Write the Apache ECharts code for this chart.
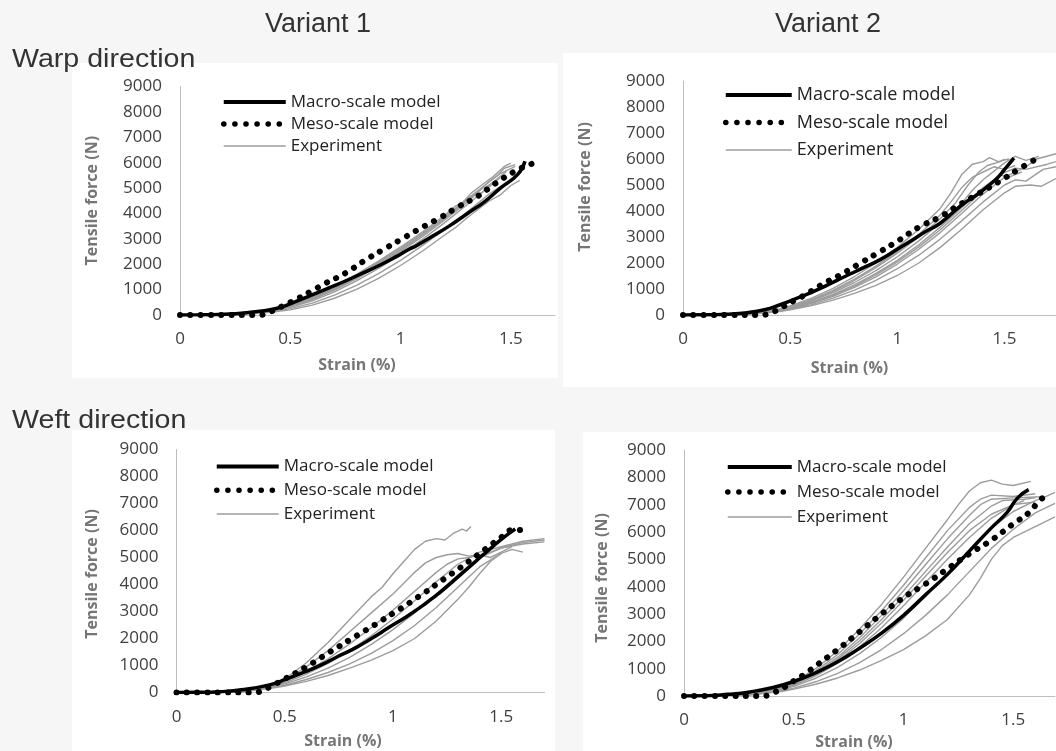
<!DOCTYPE html>
<html>
<head>
<meta charset="utf-8">
<script src="https://cdn.jsdelivr.net/npm/echarts@6/dist/echarts.min.js"></script>
<style>
html,body{margin:0;padding:0;background:#f6f6f6;}
#chart{width:1056px;height:751px;}
</style>
</head>
<body>
<div id="chart"></div>
<script>
// ---------- Data (strain %, tensile force N) ----------
const yTickLabels = ['0','1000','2000','3000','4000','5000','6000','7000','8000','9000'];
const xTickLabels = ['0','0.5','1','1.5'];
const seriesNames = ['Macro-scale model','Meso-scale model','Experiment'];
const columnTitles = ['Variant 1','Variant 2'];
const rowTitles = ['Warp direction','Weft direction'];

// Warp direction, Variant 1
const warpV1Macro = [[0,0],[0.1,5],[0.2,30],[0.28,66],[0.36,150],[0.44,264],[0.51,480],[0.59,760],[0.67,1050],[0.75,1340],[0.83,1660],[0.91,1980],[0.98,2300],[1.04,2600],[1.07,2720],[1.14,3080],[1.22,3500],[1.3,3980],[1.38,4460],[1.45,4980],[1.53,5530],[1.564,6060]];
const warpV1Meso = [[0,0],[0.1,0],[0.2,0],[0.3,0],[0.36,0],[0.41,130],[0.46,330],[0.5,500],[0.53,633],[0.6,960],[0.66,1250],[0.75,1650],[0.835,2135],[0.92,2570],[1.0,2966],[1.09,3414],[1.18,3835],[1.26,4257],[1.35,4680],[1.43,5180],[1.52,5670],[1.6,5970]];
const warpV1Experiment = [
  [[0,0],[0.2,40],[0.4,200],[0.5,400],[0.6,720],[0.7,1120],[0.8,1600],[0.9,2120],[1.0,2680],[1.1,3280],[1.2,3930],[1.25,4300],[1.28,4420],[1.32,4800],[1.38,5200],[1.42,5450],[1.47,5850],[1.5,5980]],
  [[0,0],[0.2,30],[0.4,170],[0.5,360],[0.6,660],[0.7,1040],[0.8,1500],[0.9,2020],[1.0,2580],[1.1,3180],[1.2,3820],[1.26,4250],[1.3,4520],[1.35,4850],[1.4,5250],[1.44,5500],[1.47,5780],[1.52,5920]],
  [[0,0],[0.2,30],[0.4,160],[0.5,330],[0.6,610],[0.7,980],[0.8,1420],[0.9,1930],[1.0,2490],[1.1,3090],[1.2,3740],[1.3,4420],[1.34,4750],[1.37,4830],[1.4,5100],[1.48,5650]],
  [[0,0],[0.2,25],[0.4,150],[0.5,300],[0.6,560],[0.7,910],[0.8,1340],[0.9,1840],[1.0,2390],[1.1,2990],[1.2,3640],[1.3,4330],[1.38,4900],[1.45,5400]],
  [[0,0],[0.2,20],[0.4,120],[0.5,250],[0.6,470],[0.7,780],[0.8,1170],[0.9,1630],[1.0,2150],[1.1,2740],[1.2,3370],[1.27,3800],[1.3,4050],[1.4,4750],[1.5,5350],[1.55,5650]],
  [[0,0],[0.2,15],[0.4,100],[0.5,200],[0.6,390],[0.7,660],[0.8,1010],[0.9,1440],[1.0,1950],[1.1,2520],[1.2,3150],[1.25,3450],[1.3,3820],[1.4,4480],[1.45,4720],[1.5,5100],[1.54,5300]],
  [[0,0],[0.2,35],[0.4,190],[0.5,380],[0.6,690],[0.7,1080],[0.8,1550],[0.9,2070],[1.0,2630],[1.1,3230],[1.2,3870],[1.3,4560],[1.4,5230],[1.45,5560],[1.52,5850]],
  [[0,0],[0.2,30],[0.4,165],[0.5,345],[0.6,640],[0.7,1010],[0.8,1460],[0.9,1980],[1.0,2540],[1.1,3150],[1.2,3800],[1.3,4500],[1.37,4980],[1.42,5200]]
];

// Warp direction, Variant 2
const warpV2Macro = [[0,0],[0.1,5],[0.2,30],[0.3,90],[0.38,200],[0.45,385],[0.53,640],[0.61,910],[0.68,1180],[0.76,1500],[0.84,1810],[0.92,2130],[1.0,2530],[1.07,2885],[1.13,3200],[1.2,3530],[1.3,4230],[1.38,4680],[1.46,5220],[1.5,5600],[1.544,6030]];
const warpV2Meso = [[0,0],[0.1,0],[0.2,0],[0.3,0],[0.36,0],[0.42,120],[0.47,330],[0.52,560],[0.56,731],[0.653,1192],[0.746,1602],[0.836,2038],[0.924,2461],[1.009,2884],[1.099,3372],[1.195,3756],[1.288,4231],[1.381,4680],[1.474,5128],[1.56,5577],[1.653,6026]];
const warpV2Experiment = [
  [[0,0],[0.3,40],[0.45,230],[0.5,350],[0.6,650],[0.7,1020],[0.8,1480],[0.9,2000],[1.0,2600],[1.1,3300],[1.2,4100],[1.25,4700],[1.3,5400],[1.35,5800],[1.4,5900],[1.43,6050],[1.47,5900],[1.52,6000]],
  [[0,0],[0.3,35],[0.45,210],[0.5,320],[0.6,600],[0.7,950],[0.8,1380],[0.9,1880],[1.0,2450],[1.1,3100],[1.2,3850],[1.25,4350],[1.3,4900],[1.35,5300],[1.4,5500],[1.45,5700],[1.5,5600],[1.55,5750]],
  [[0,0],[0.3,30],[0.45,190],[0.5,290],[0.6,540],[0.7,860],[0.8,1250],[0.9,1710],[1.0,2240],[1.1,2850],[1.2,3550],[1.3,4300],[1.35,4800],[1.4,5200],[1.5,5850],[1.55,6100],[1.6,5950],[1.66,6100]],
  [[0,0],[0.3,30],[0.45,180],[0.5,265],[0.6,490],[0.7,790],[0.8,1160],[0.9,1600],[1.0,2100],[1.1,2700],[1.2,3380],[1.3,4130],[1.4,4900],[1.5,5480],[1.55,5650],[1.6,5600],[1.7,5800],[1.74,5900]],
  [[0,0],[0.3,25],[0.45,160],[0.5,240],[0.6,450],[0.7,720],[0.8,1060],[0.9,1470],[1.0,1960],[1.1,2530],[1.2,3170],[1.3,3900],[1.4,4650],[1.5,5300],[1.6,5700],[1.65,6000],[1.74,6200]],
  [[0,0],[0.3,25],[0.45,150],[0.5,220],[0.6,400],[0.7,650],[0.8,960],[0.9,1330],[1.0,1780],[1.1,2300],[1.2,2920],[1.3,3620],[1.4,4350],[1.5,5000],[1.55,5200],[1.6,5150],[1.68,5600],[1.74,5700]],
  [[0,0],[0.3,20],[0.45,135],[0.5,200],[0.6,360],[0.7,570],[0.8,830],[0.9,1140],[1.0,1520],[1.1,2000],[1.2,2600],[1.3,3300],[1.4,4050],[1.5,4700],[1.55,4950],[1.62,5000],[1.67,4950],[1.74,5250]],
  [[0,0],[0.3,35],[0.45,200],[0.5,300],[0.6,570],[0.7,910],[0.8,1330],[0.9,1820],[1.0,2380],[1.1,3000],[1.2,3700],[1.27,4300],[1.33,5000],[1.38,5500],[1.42,5750],[1.48,5900],[1.5,6000]],
  [[0,0],[0.3,28],[0.45,170],[0.5,250],[0.6,470],[0.7,760],[0.8,1110],[0.9,1540],[1.0,2040],[1.1,2620],[1.2,3280],[1.3,4020],[1.4,4780],[1.48,5380],[1.52,5300],[1.58,5500]]
];

// Weft direction, Variant 1
const weftV1Macro = [[0,0],[0.1,5],[0.2,30],[0.3,99],[0.43,284],[0.506,494],[0.586,742],[0.666,1013],[0.745,1335],[0.825,1644],[0.904,2015],[0.984,2423],[1.064,2818],[1.143,3251],[1.2,3600],[1.223,3745],[1.303,4301],[1.382,4857],[1.462,5414],[1.518,5785],[1.565,6056]];
const weftV1Meso = [[0,0],[0.1,0],[0.2,0],[0.3,0],[0.36,0],[0.41,130],[0.46,330],[0.5,500],[0.55,720],[0.6,950],[0.65,1200],[0.7,1460],[0.75,1700],[0.8,1950],[0.85,2190],[0.9,2430],[0.95,2680],[1.0,2930],[1.05,3180],[1.1,3450],[1.15,3720],[1.2,4000],[1.25,4280],[1.3,4560],[1.35,4850],[1.4,5150],[1.45,5450],[1.5,5750],[1.56,6030],[1.61,6000]];
const weftV1Experiment = [
  [[0,0],[0.3,60],[0.45,320],[0.5,500],[0.6,1100],[0.7,1850],[0.8,2700],[0.9,3550],[0.95,3900],[1.0,4400],[1.05,4850],[1.1,5300],[1.15,5600],[1.2,5700],[1.24,5650],[1.28,5900],[1.32,6050],[1.34,5980],[1.36,6150]],
  [[0,0],[0.3,55],[0.45,300],[0.5,460],[0.6,950],[0.7,1550],[0.8,2250],[0.9,2950],[1.0,3650],[1.05,4050],[1.1,4450],[1.15,4800],[1.2,5000],[1.25,5100],[1.3,5150],[1.35,5050],[1.4,5100],[1.45,5000],[1.5,5200],[1.55,5400]],
  [[0,0],[0.3,50],[0.45,270],[0.5,400],[0.6,780],[0.7,1250],[0.8,1800],[0.9,2400],[1.0,3050],[1.1,3750],[1.2,4450],[1.25,4750],[1.3,4950],[1.35,5000],[1.45,5200],[1.5,5350],[1.6,5550],[1.7,5650]],
  [[0,0],[0.3,45],[0.45,250],[0.5,360],[0.6,680],[0.7,1080],[0.8,1560],[0.9,2100],[1.0,2720],[1.1,3400],[1.2,4100],[1.3,4750],[1.4,5200],[1.5,5400],[1.6,5600],[1.7,5700]],
  [[0,0],[0.3,35],[0.45,220],[0.5,320],[0.6,580],[0.7,900],[0.8,1300],[0.9,1780],[1.0,2330],[1.1,2950],[1.2,3650],[1.3,4350],[1.4,5000],[1.5,5350],[1.6,5500],[1.7,5580]],
  [[0,0],[0.3,30],[0.45,190],[0.5,270],[0.6,480],[0.7,740],[0.8,1060],[0.9,1450],[1.0,1920],[1.1,2480],[1.2,3150],[1.3,3900],[1.4,4650],[1.5,5150],[1.55,5300],[1.6,5200]],
  [[0,0],[0.3,25],[0.45,170],[0.5,240],[0.6,410],[0.7,630],[0.8,900],[0.9,1200],[1.0,1550],[1.1,2000],[1.2,2650],[1.3,3450],[1.35,3900],[1.4,4400],[1.45,4850],[1.5,5150]]
];

// Weft direction, Variant 2
const weftV2Macro = [[0,0],[0.1,5],[0.2,60],[0.3,150],[0.4,300],[0.5,530],[0.6,850],[0.7,1250],[0.8,1750],[0.9,2300],[1.0,2950],[1.1,3700],[1.2,4450],[1.3,5300],[1.4,6150],[1.47,6700],[1.52,7250],[1.57,7550]];
const weftV2Meso = [[0,0],[0.1,0],[0.2,0],[0.3,0],[0.36,0],[0.41,130],[0.46,330],[0.5,550],[0.55,800],[0.6,1100],[0.7,1700],[0.8,2350],[0.9,3000],[1.0,3600],[1.1,4100],[1.2,4650],[1.3,5200],[1.4,5700],[1.5,6300],[1.57,6700],[1.62,7150],[1.66,7400]];
const weftV2Experiment = [
  [[0,0],[0.3,80],[0.45,350],[0.5,520],[0.6,1000],[0.7,1650],[0.8,2450],[0.9,3350],[1.0,4350],[1.1,5400],[1.2,6450],[1.25,7000],[1.3,7500],[1.35,7800],[1.4,7900],[1.45,7750],[1.5,7700],[1.58,7850]],
  [[0,0],[0.3,70],[0.45,320],[0.5,480],[0.6,920],[0.7,1520],[0.8,2270],[0.9,3120],[1.0,4050],[1.1,5050],[1.2,6050],[1.3,6900],[1.35,7200],[1.4,7350],[1.5,7300],[1.6,7400]],
  [[0,0],[0.3,65],[0.45,300],[0.5,450],[0.6,860],[0.7,1420],[0.8,2130],[0.9,2950],[1.0,3850],[1.1,4800],[1.2,5750],[1.3,6600],[1.35,7000],[1.4,7200],[1.5,7250],[1.65,7300],[1.69,7450]],
  [[0,0],[0.3,60],[0.45,290],[0.5,430],[0.6,820],[0.7,1350],[0.8,2020],[0.9,2800],[1.0,3650],[1.1,4550],[1.2,5450],[1.3,6300],[1.4,6950],[1.45,7150],[1.55,7200],[1.6,7250]],
  [[0,0],[0.3,60],[0.45,280],[0.5,410],[0.6,780],[0.7,1280],[0.8,1920],[0.9,2670],[1.0,3500],[1.1,4380],[1.2,5250],[1.3,6050],[1.4,6650],[1.5,7000],[1.6,7100]],
  [[0,0],[0.3,55],[0.45,270],[0.5,390],[0.6,740],[0.7,1200],[0.8,1800],[0.9,2500],[1.0,3300],[1.1,4150],[1.2,5000],[1.3,5800],[1.4,6500],[1.5,7000],[1.55,7150]],
  [[0,0],[0.3,50],[0.45,240],[0.5,350],[0.6,650],[0.7,1050],[0.8,1550],[0.9,2150],[1.0,2850],[1.1,3650],[1.2,4500],[1.3,5350],[1.4,6150],[1.5,6750],[1.6,7150],[1.65,7300]],
  [[0,0],[0.3,40],[0.45,200],[0.5,290],[0.6,520],[0.7,830],[0.8,1220],[0.9,1700],[1.0,2280],[1.1,2950],[1.2,3700],[1.3,4550],[1.4,5400],[1.5,6100],[1.6,6700],[1.69,7050]],
  [[0,0],[0.3,35],[0.45,170],[0.5,250],[0.6,430],[0.7,660],[0.8,950],[0.9,1300],[1.0,1700],[1.1,2200],[1.2,2800],[1.3,3700],[1.35,4300],[1.4,5000],[1.45,5500],[1.5,5800],[1.6,6200],[1.69,6550]]
];

// ---------- Styles & layout ----------
const uiFont = "'Open Sans', 'Noto Sans', sans-serif";
const macroLine = {color: '#000', width: 3.5};
const mesoLine = {color: '#000', width: 6, type: [0.1, 10.2], cap: 'round'};
const expLine = {color: '#9c9c9c', width: 1.4};

const panels = [
  {macro: warpV1Macro, meso: warpV1Meso, exp: warpV1Experiment, xMax: 1.7,
   grid: {left: 180, top: 86.5, width: 375, height: 228.5},
   legend: {left: 221, top: 93.5, gap: 5, size: 17, w: 62},
   yNameGap: 80, yNameShift: 0, xNameGap: 42, xNameShift: 21,
   bg: [72, 63, 486, 315]},
  {macro: warpV2Macro, meso: warpV2Meso, exp: warpV2Experiment, xMax: 1.74,
   grid: {left: 683, top: 81, width: 374, height: 234},
   legend: {left: 723, top: 86, gap: 9.5, size: 18, w: 66},
   yNameGap: 90, yNameShift: 22, xNameGap: 45, xNameShift: 40,
   bg: [563, 53, 493, 334]},
  {macro: weftV1Macro, meso: weftV1Meso, exp: weftV1Experiment, xMax: 1.7,
   grid: {left: 176.5, top: 449.5, width: 368, height: 243},
   legend: {left: 214, top: 458, gap: 6.75, size: 17, w: 62},
   yNameGap: 76, yNameShift: -6, xNameGap: 41, xNameShift: 35,
   bg: [72, 430, 483, 321]},
  {macro: weftV2Macro, meso: weftV2Meso, exp: weftV2Experiment, xMax: 1.69,
   grid: {left: 684, top: 450, width: 371, height: 246.7},
   legend: {left: 725, top: 458.5, gap: 8, size: 17, w: 64},
   yNameGap: 74, yNameShift: -10, xNameGap: 38, xNameShift: 31,
   bg: [583, 432, 473, 319]}
];

const grids = [], xAxes = [], yAxes = [], series = [], legends = [], graphics = [];

panels.forEach((p, i) => {
  grids.push(Object.assign({containLabel: false}, p.grid));
  xAxes.push({
    type: 'value', gridIndex: i, min: 0, max: p.xMax, interval: 0.5,
    name: 'Strain (%)', nameLocation: 'middle', nameGap: p.xNameGap,
    nameTextStyle: {fontFamily: uiFont, fontSize: 16, fontWeight: 'bold', color: '#767676',
                    padding: [0, p.xNameShift, 0, 0]},
    axisLine: {show: true, onZero: false, lineStyle: {color: '#bdbdbd', width: 1}},
    axisTick: {show: false}, splitLine: {show: false},
    axisLabel: {fontFamily: uiFont, fontSize: 17, color: '#404040', margin: 16,
      showMaxLabel: false,
      formatter: v => { const s = String(Math.round(v * 10) / 10); return xTickLabels.includes(s) ? s : ''; }}
  });
  yAxes.push({
    type: 'value', gridIndex: i, min: 0, max: 9000, interval: 1000,
    name: 'Tensile force (N)', nameLocation: 'middle', nameGap: p.yNameGap,
    nameTextStyle: {fontFamily: uiFont, fontSize: 16, fontWeight: 'bold', color: '#767676',
                    padding: p.yNameShift >= 0 ? [0, 0, 0, p.yNameShift] : [0, -p.yNameShift, 0, 0]},
    axisLine: {show: true, lineStyle: {color: '#bdbdbd', width: 1}},
    axisTick: {show: false}, splitLine: {show: false},
    axisLabel: {fontFamily: uiFont, fontSize: 17, color: '#404040', margin: 18,
      formatter: v => yTickLabels.includes(String(v)) ? String(v) : ''}
  });
  p.exp.forEach((curve) => {
    series.push({
      name: seriesNames[2], type: 'line', xAxisIndex: i, yAxisIndex: i,
      data: curve, symbol: 'none', smooth: false, z: 2,
      lineStyle: expLine, itemStyle: {color: expLine.color}
    });
  });
  series.push({
    name: seriesNames[0], type: 'line', xAxisIndex: i, yAxisIndex: i,
    data: p.macro, symbol: 'none', smooth: true, z: 3,
    lineStyle: macroLine, itemStyle: {color: '#000'}
  });
  series.push({
    name: seriesNames[1], type: 'line', xAxisIndex: i, yAxisIndex: i,
    data: p.meso, symbol: 'none', smooth: true, z: 4,
    lineStyle: mesoLine, itemStyle: {color: '#000'}
  });
  legends.push({
    orient: 'vertical', left: p.legend.left, top: p.legend.top,
    itemWidth: p.legend.w, itemHeight: 14, itemGap: p.legend.gap,
    selectedMode: false, padding: 0,
    itemStyle: {opacity: 0, borderWidth: 0},
    data: [
      {name: seriesNames[0], lineStyle: {color: '#000', width: 4}},
      {name: seriesNames[1], lineStyle: {color: '#000', width: 5.5, type: [0.1, 11], cap: 'round'}},
      {name: seriesNames[2], lineStyle: {color: '#9c9c9c', width: 1.4}}
    ],
    textStyle: {fontFamily: uiFont, fontSize: p.legend.size, color: '#222'}
  });
  graphics.push({
    type: 'rect', z: -10, silent: true,
    shape: {x: p.bg[0], y: p.bg[1], width: p.bg[2], height: p.bg[3]},
    style: {fill: '#ffffff'}
  });
});

const heading = (txt, x, y, align, size, sx) => ({
  type: 'text', z: 5, silent: true, x: x, y: y, scaleX: sx,
  style: {text: txt, font: size + "px 'Liberation Sans', Arial, sans-serif", fill: '#333',
          align: align, verticalAlign: 'middle'}
});
graphics.push(heading(columnTitles[0], 318, 25, 'center', 27, 1));
graphics.push(heading(columnTitles[1], 828, 25, 'center', 27, 1));
graphics.push(heading(rowTitles[0], 12, 60, 'left', 26, 1.1));
graphics.push(heading(rowTitles[1], 12, 421, 'left', 26, 1.1));

const chart = echarts.init(document.getElementById('chart'), null, {renderer: 'canvas'});
chart.setOption({
  backgroundColor: '#f6f6f6',
  animation: false,
  grid: grids, xAxis: xAxes, yAxis: yAxes,
  legend: legends, series: series, graphic: graphics
});
</script>
</body>
</html>
